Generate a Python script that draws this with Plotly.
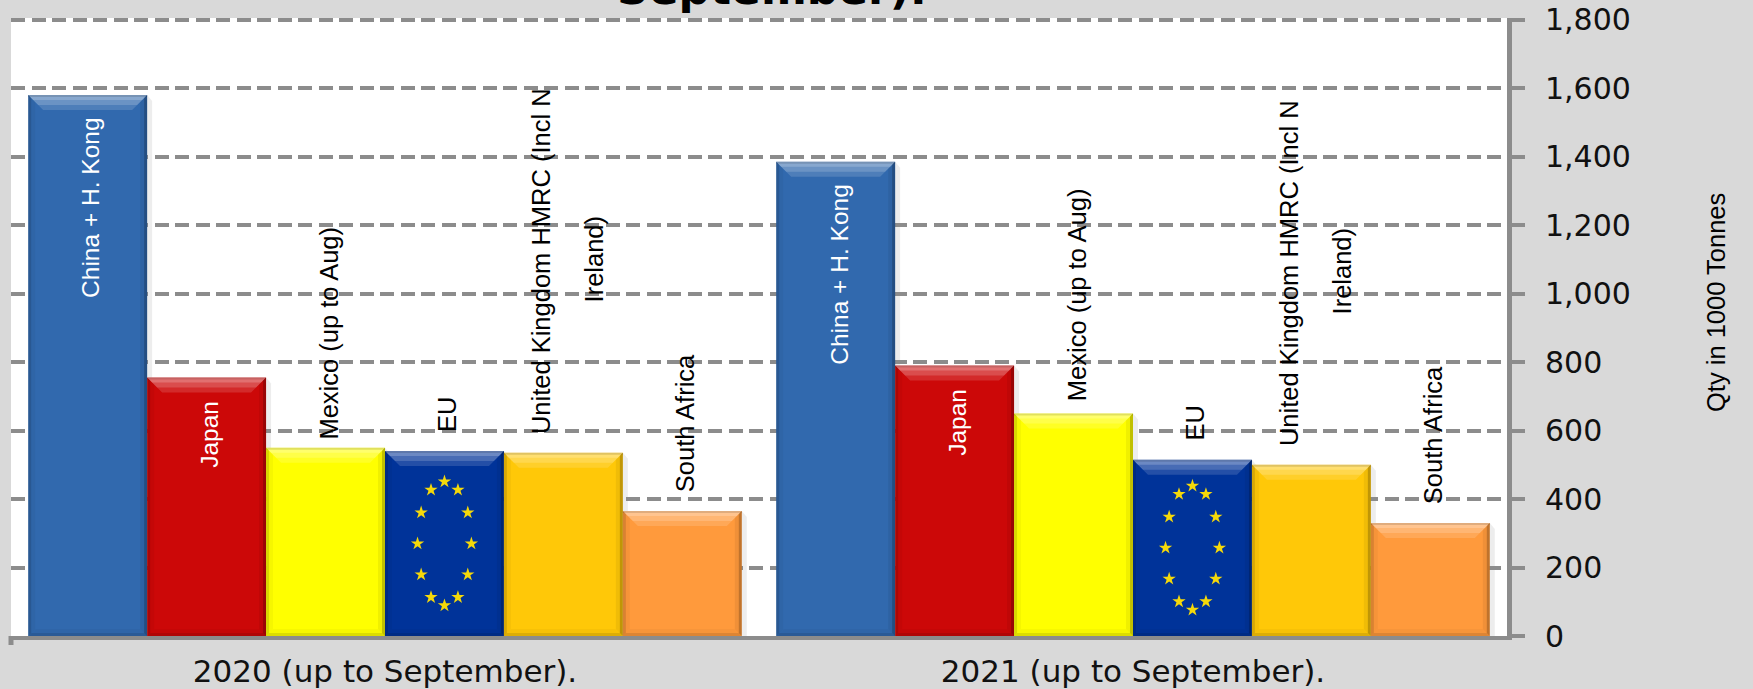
import math
import plotly.graph_objects as go

title_text = "September)."
periods = ["2020 (up to September).", "2021 (up to September)."]
countries = ["China + H. Kong", "Japan", "Mexico (up to Aug)", "EU",
             "United Kingdom HMRC (Incl N<br>Ireland)", "South Africa"]
values_2020 = [1580, 755, 550, 540, 535, 365]
values_2021 = [1385, 790, 650, 515, 500, 330]
colors = ["#3169ae", "#cc0808", "#ffff00", "#003399", "#ffc808", "#ff9a3c"]
label_white = [True, True, False, False, False, False]
tick_values = list(range(0, 1801, 200))

W, H = 1753, 689
L, R, T, B = 11, 1507, 18, 636
YMAX = 1805
GAP = 0.046
bw = (1 - GAP) / 6
PX_X = 1 / ((R - L) / 2)          # data units per pixel
PX_Y = YMAX / (B - T)

FONT = "Liberation Sans, sans-serif"
fig = go.Figure()
series = [[values_2020[i], values_2021[i]] for i in range(6)]
for i, c in enumerate(countries):
    fig.add_trace(go.Bar(x=[0, 1], y=series[i], name=c.replace("<br>", " "),
                         marker=dict(color=colors[i], line=dict(width=0)),
                         showlegend=False))

shapes, notes = [], []


def poly(pts, col, layer="above"):
    path = "M" + " L".join(f"{a},{b}" for a, b in pts) + " Z"
    shapes.append(dict(type="path", path=path, xref="x", yref="y",
                       fillcolor=col, line=dict(width=0), layer=layer))


for g in range(2):
    for i in range(6):
        v = series[i][g]
        x0 = g + (i - 3) * bw
        x1 = x0 + bw
        xc = (x0 + x1) / 2
        # soft shadow on the right
        poly([(x1, 0), (x1 + 5 * PX_X, 0), (x1 + 5 * PX_X, v - 6 * PX_Y), (x1, v)], "rgba(0,0,0,0.07)", "below")
        # top bevel, fading downward
        for h, a in [(15, .14), (10, .17), (5, .2)]:
            dx, dy = h * PX_X, h * PX_Y
            poly([(x0, v), (x1, v), (x1 - dx, v - dy), (x0 + dx, v - dy)], f"rgba(255,255,255,{a})")
        # side and bottom bevels
        for w, a in [(7, .06), (3, .2)]:
            dx, dy = w * PX_X, w * PX_Y
            poly([(x1, 0), (x1 - dx, dy), (x1 - dx, v - dy), (x1, v)], f"rgba(0,0,0,{a})")
            poly([(x0, 0), (x0 + dx, dy), (x0 + dx, v - dy), (x0, v)], f"rgba(0,0,0,{a * .6})")
            poly([(x0, 0), (x1, 0), (x1 - dx, dy), (x0 + dx, dy)], f"rgba(0,0,0,{a * .5})")
        poly([(x0, v), (x1, v), (x1, v - 2 * PX_Y), (x0, v - 2 * PX_Y)], "rgba(0,0,0,0.12)")

        lines = countries[i].split("<br>")
        if label_white[i]:
            notes.append(dict(x=xc, y=v - 62, text=lines[0], yanchor="top", xanchor="center",
                              textangle=-90, showarrow=False, xshift=3,
                              font=dict(family=FONT, size=24.5, color="white")))
        else:
            gap = 50
            if i == 2:
                gap = 18 if g == 0 else 30
            shift = -23 if len(lines) > 1 else 3
            notes.append(dict(x=xc, y=v + gap, text=lines[0], yanchor="bottom", xanchor="center",
                              textangle=-90, showarrow=False, xshift=shift,
                              font=dict(family=FONT, size=25.5, color="black")))
            if len(lines) > 1:
                notes.append(dict(x=xc, y=v + 566, text=lines[1], yanchor="middle", xanchor="center",
                                  textangle=-90, showarrow=False, xshift=31,
                                  font=dict(family=FONT, size=25.5, color="black")))

# EU stars
for g in range(2):
    v = series[3][g]
    xc = g + (3 - 2.5) * bw
    sx, sy = [], []
    for k in range(12):
        a = 2 * math.pi * k / 12
        sx.append(xc + 0.036 * math.sin(a))
        sy.append(v / 2 + 181 * math.cos(a))
    fig.add_trace(go.Scatter(x=sx, y=sy, mode="markers", showlegend=False,
                             marker=dict(symbol="star", size=10, color="#f5d90a",
                                         line=dict(width=0))))

notes.append(dict(xref="paper", yref="paper", x=(1716 - L) / (R - L), y=(B - 303) / (B - T),
                  xanchor="center", yanchor="middle", text="Qty in 1000 Tonnes", textangle=-90,
                  showarrow=False, font=dict(family=FONT, size=25.5, color="black")))
# chart title, whose upper part is cut by the page edge as in the source picture
notes.append(dict(xref="paper", yref="paper", x=(772 - L) / (R - L), y=(B - 16) / (B - T),
                  xanchor="center", yanchor="bottom", text=f"<b>{title_text}</b>", showarrow=False,
                  font=dict(family="DejaVu Sans", size=44, color="black")))

# small end tick at the left of the category axis
shapes.append(dict(type="line", xref="paper", yref="paper", x0=0, x1=0, y0=0, y1=-9 / (B - T),
                   line=dict(color="#8c8c8c", width=5)))

fig.update_layout(
    width=W, height=H, barmode="group", bargap=GAP, bargroupgap=0,
    paper_bgcolor="#d9d9d9", plot_bgcolor="white",
    margin=dict(l=L, r=W - R, t=T, b=H - B, autoexpand=False),
    shapes=shapes, annotations=notes,
    xaxis=dict(range=[-0.5, 1.5], tickvals=[0, 1], ticktext=periods, ticks="", ticklabelstandoff=5,
               showgrid=False, zeroline=False, showline=True, linecolor="#8c8c8c", linewidth=4,
               tickfont=dict(family="DejaVu Sans", size=31, color="#111111")),
    yaxis=dict(range=[0, YMAX], side="right", tickvals=tick_values, tickformat=",",
               ticks="outside", ticklen=13, tickwidth=4, tickcolor="#8c8c8c", ticklabelstandoff=14,
               showline=True, linecolor="#8c8c8c", linewidth=5, zeroline=False,
               showgrid=True, gridcolor="#8c8c8c", gridwidth=4, griddash="14px,6.5px",
               tickfont=dict(family="DejaVu Sans", size=30, color="#111111")),
)
fig.write_html("out.html", config={"displayModeBar": False},
               post_script="document.body.style.margin='0';document.body.style.overflow='hidden';")
